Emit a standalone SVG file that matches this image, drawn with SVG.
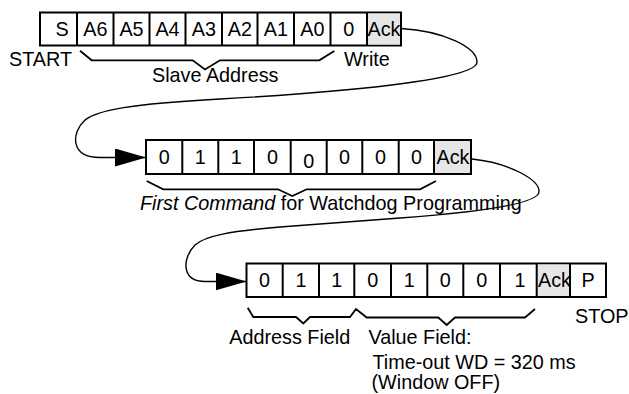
<svg xmlns="http://www.w3.org/2000/svg" width="629" height="394" viewBox="0 0 629 394">
<style>
text{font-family:"Liberation Sans",Arial,sans-serif;font-size:19.8px;fill:#000}
.c{text-anchor:middle}
.box{fill:#fff;stroke:#000;stroke-width:2}
.ack{fill:#e6e6e6;stroke:none}
.div{stroke:#000;stroke-width:2;fill:none}
.brace{stroke:#000;stroke-width:1.8;fill:none}
.conn{stroke:#000;stroke-width:1.4;fill:none}
</style>
<defs>
<marker id="arrow" markerUnits="userSpaceOnUse" markerWidth="31" markerHeight="18" viewBox="0 0 31 18" refX="31" refY="9" orient="auto">
<path d="M0,0 L31,9 L0,18 z" fill="#000"/>
</marker>
</defs>
<g id="frame1">
<rect class="box" x="40" y="12.5" width="361" height="33"/>
<rect class="ack" x="367" y="13.5" width="33" height="31"/>
<text class="c" x="62" y="35.5">S</text>
<text class="c" x="95.3" y="35.5">A6</text>
<text class="c" x="131.5" y="35.5">A5</text>
<text class="c" x="167.5" y="35.5">A4</text>
<text class="c" x="203.8" y="35.5">A3</text>
<text class="c" x="239.8" y="35.5">A2</text>
<text class="c" x="275.8" y="35.5">A1</text>
<text class="c" x="312.3" y="35.5">A0</text>
<text class="c" x="348.8" y="35.5">0</text>
<text x="367.5" y="35.5">Ack</text>
<path class="div" d="M77,12.5V45.5M113.5,12.5V45.5M149.5,12.5V45.5M185.5,12.5V45.5M222,12.5V45.5M257.5,12.5V45.5M294,12.5V45.5M330.5,12.5V45.5M367,12.5V45.5M401,12.5V45.5"/>
</g>
<g id="labels1">
<text x="9" y="66">START</text>
<text x="344" y="66">Write</text>
<text x="152" y="81.5">Slave Address</text>
<path class="brace" d="M80,50.7 L91.7,60.3 L192.7,60.3 L205,69.5 L220,60.3 L319.3,60.3 L334.3,51"/>
</g>
<g id="frame2">
<rect class="box" x="146" y="140" width="325" height="34"/>
<rect class="ack" x="434" y="141" width="36" height="32"/>
<text class="c" x="164.2" y="164">0</text>
<text class="c" x="200.3" y="164">1</text>
<text class="c" x="236.2" y="164">1</text>
<text class="c" x="272.4" y="164">0</text>
<text class="c" x="308.7" y="168">0</text>
<text class="c" x="344.5" y="164">0</text>
<text class="c" x="380.5" y="164">0</text>
<text class="c" x="416.4" y="164">0</text>
<text x="436.5" y="164">Ack</text>
<path class="div" d="M182.3,140V174M218.3,140V174M254,140V174M290.7,140V174M326.7,140V174M362.3,140V174M398.7,140V174M434,140V174M471,140V174"/>
</g>
<g id="labels2">
<path class="brace" d="M146.7,181 L163.3,189.3 L278,189.3 L292.3,196 L306.7,189.3 L420,189.3 L436,181"/>
<text x="140" y="209.5"><tspan font-style="italic">First Command</tspan> for Watchdog Programming</text>
</g>
<g id="frame3">
<rect class="box" x="246.5" y="263.5" width="359.5" height="33.5"/>
<rect class="ack" x="536.7" y="264.5" width="33.3" height="31.5"/>
<text class="c" x="264.6" y="287">0</text>
<text class="c" x="300.9" y="287">1</text>
<text class="c" x="336.7" y="287">1</text>
<text class="c" x="372.7" y="287">0</text>
<text class="c" x="409.2" y="287">1</text>
<text class="c" x="445.3" y="287">0</text>
<text class="c" x="481.7" y="287">0</text>
<text class="c" x="520" y="287">1</text>
<text x="538" y="287">Ack</text>
<text class="c" x="588" y="287">P</text>
<path class="div" d="M282.7,263.5V297M319,263.5V297M354.3,263.5V297M391,263.5V297M427.3,263.5V297M463.3,263.5V297M500,263.5V297M536.7,263.5V297M570,263.5V297"/>
</g>
<g id="labels3">
<path class="brace" d="M247.7,307.7 L253.3,317 L296,317 L303.3,323.5 L310,317 L350,317 L356,309 L366.7,317.5 L438.3,317.5 L446.7,325 L455,317.5 L525,317.5 L535,309"/>
<text x="575" y="323">STOP</text>
<text x="229.3" y="344">Address Field</text>
<text x="368.5" y="344">Value Field:</text>
<text x="372.5" y="369">Time-out WD = 320 ms</text>
<text x="371.5" y="389">(Window OFF)</text>
</g>
<g id="connectors">
<path class="conn" marker-end="url(#arrow)" d="M401,28.5 C445,31 477,48 477,62 C477,77 380,90 220,99 C130,104 98,110 85,120 C71,133 70,157.5 100,157.5 L146,157.5"/>
<path class="conn" marker-end="url(#arrow)" d="M472,159 C510,163 540,180 539,192 C538,204 480,212 400,218 L280,227 C230,231 205,236 195,245 C182,258 181,281.5 205,281.5 L246.5,281.5"/>
</g>
</svg>
